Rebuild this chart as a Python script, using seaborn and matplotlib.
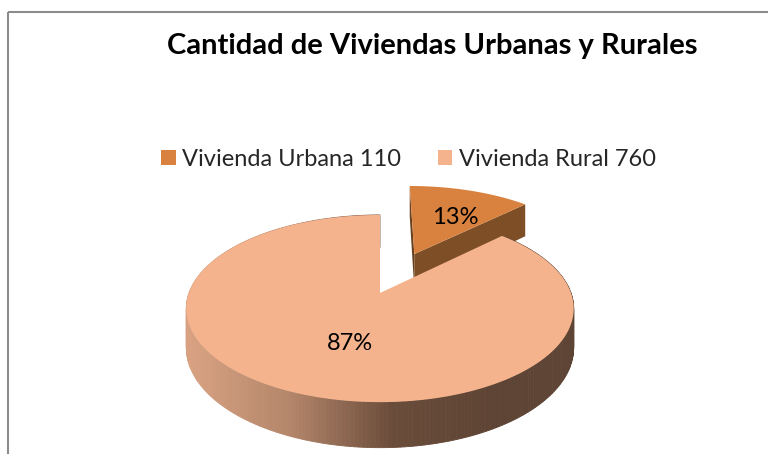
import numpy as np
import seaborn as sns
import matplotlib.pyplot as plt
from matplotlib.patches import Polygon, Rectangle, Patch

# datos
categorias = ["Vivienda Urbana", "Vivienda Rural"]
viviendas = [110, 760]
colores_cara = ["#D9823F", "#F4B38D"]
color_lado_urbana = "#7E4F27"
colores_lado_rural = ["#D8A282", "#B3856A", "#6A4C3A", "#5E4434"]
separacion = [0.5, 0.0]
ajuste_etiqueta = [(8, 0), (14, 0)]
titulo = "Cantidad de Viviendas Urbanas y Rurales"

sns.set_theme(style="white")
plt.rcParams['font.family'] = ['Lato', 'DejaVu Sans']

# geometria del pastel 3D (en pixeles)
cx, cy = 380, 293
rx, ry = 191, 91
k = 0.166      # perspectiva
H = 38         # grosor


def proj(u, v):
    w = 1 + k * v
    return cx + rx * u / w, cy - ry * v / w, w


def arista(u, v):
    x, y, w = proj(u, v)
    return (x, y), (x, y + H / w)


fig = plt.figure(figsize=(7.68, 4.54), dpi=100)
ax = fig.add_axes([0, 0, 1, 1])
ax.set_xlim(0, 768)
ax.set_ylim(454, 0)
ax.axis("off")

# marco del grafico
ax.add_patch(Rectangle((8, 12), 900, 600, fill=False, edgecolor="#8C8C8C", lw=1.5))

total = sum(viviendas)
fracs = [v / total for v in viviendas]
inicio = 90.0
rebanadas = []
for f, e in zip(fracs, separacion):
    t1 = inicio
    t2 = inicio - 360 * f
    mid = np.radians((t1 + t2) / 2)
    ou, ov = e * np.cos(mid), e * np.sin(mid)
    rebanadas.append((t1, t2, mid, ou, ov))
    inicio = t2

cmap_rural = sns.blend_palette(colores_lado_rural, as_cmap=True)

etiquetas = []
for i, (t1, t2, mid, ou, ov) in enumerate(rebanadas):
    th = np.radians(np.linspace(t1, t2, 300))
    us, vs = ou + np.cos(th), ov + np.sin(th)
    apex_top, apex_bot = arista(ou, ov)
    tops = [arista(u, v)[0] for u, v in zip(us, vs)]
    bots = [arista(u, v)[1] for u, v in zip(us, vs)]
    if i == 0:
        # caras de corte de la rebanada separada
        ax.add_patch(Polygon([apex_top, tops[0], bots[0], apex_bot],
                             closed=True, fc="#6A4120", ec="none"))
        ax.add_patch(Polygon([apex_top, tops[-1], bots[-1], apex_bot],
                             closed=True, fc=color_lado_urbana, ec="none"))
    else:
        # pared exterior con degradado
        xmin, xmax = cx - rx, cx + rx
        for j in range(len(tops) - 1):
            xm = (tops[j][0] + tops[j + 1][0]) / 2
            c = cmap_rural(np.clip((xm - xmin) / (xmax - xmin) * 1.25, 0, 1))
            ax.add_patch(Polygon([tops[j], tops[j + 1], bots[j + 1], bots[j]],
                                 closed=True, fc=c, ec=c, lw=0.6))
    ax.add_patch(Polygon([apex_top] + tops, closed=True,
                         fc=colores_cara[i], ec="none"))
    r = 0.55
    lx, ly, _ = proj(ou + r * np.cos(mid), ov + r * np.sin(mid))
    dx, dy = ajuste_etiqueta[i]
    etiquetas.append((lx + dx, ly + dy, f"{round(100 * fracs[i])}%"))

for lx, ly, txt in etiquetas:
    ax.text(lx, ly, txt, ha="center", va="center", fontsize=17, color="black")

ax.text(432, 46, titulo, ha="center", va="center", fontsize=21,
        fontweight="bold", color="black")

handles = [Patch(facecolor=c, edgecolor="none") for c in colores_cara]
labels = [f"{c} {v}" for c, v in zip(categorias, viviendas)]
ax.legend(handles, labels, loc="center", bbox_to_anchor=(408.5 / 768, 1 - 159 / 454),
          bbox_transform=fig.transFigure, ncol=2, frameon=False, fontsize=17,
          handlelength=0.62, handleheight=0.62, handletextpad=0.28,
          columnspacing=1.55, borderpad=0, borderaxespad=0)

fig.savefig("out.png", dpi=100)
